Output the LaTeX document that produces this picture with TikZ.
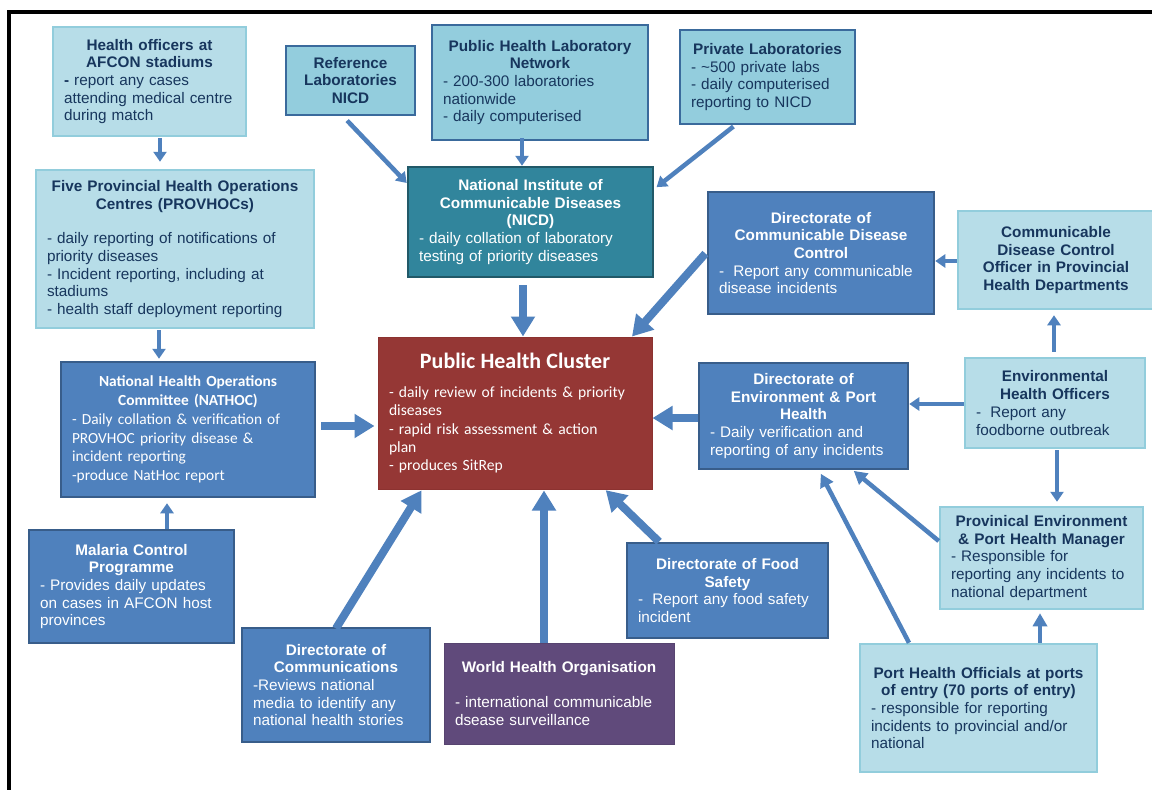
\documentclass[tikz,border=0pt]{standalone}
\usepackage{fontspec}
\setmainfont{Liberation Sans}
\newfontfamily\calfam{Carlito}
\usetikzlibrary{arrows.meta}
\setlength\parindent{0pt}
\definecolor{lbfill}{HTML}{B7DDE8}
\definecolor{lbdraw}{HTML}{92CDDC}
\definecolor{mbfill}{HTML}{93CDDD}
\definecolor{mbdraw}{HTML}{3A6A9C}
\definecolor{nicdfill}{HTML}{31859C}
\definecolor{nicddraw}{HTML}{215968}
\definecolor{bfill}{HTML}{4F81BD}
\definecolor{bdraw}{HTML}{385D8A}
\definecolor{redfill}{HTML}{953735}
\definecolor{reddraw}{HTML}{8C3230}
\definecolor{purpfill}{HTML}{604A7B}
\definecolor{purpdraw}{HTML}{574470}
\definecolor{navytext}{HTML}{17365D}
\definecolor{arrowc}{HTML}{4F81BD}
\newcommand\boxtitle[1]{{\centering\bfseries #1\par}}
\newcommand\mybox[7]{%
  \pgfmathsetmacro\bxw{#4-#2}%
  \pgfmathsetmacro\bxh{#5-#3}%
  \pgfmathsetmacro\bxt{#4-#2-22}%
  \node[#6, minimum width=\bxw pt, minimum height=\bxh pt, text width=\bxt pt] (#1) at ({(#2+#4)/2},{(#3+#5)/2}) {#7};}
\tikzset{
  basebox/.style={rectangle, inner xsep=11pt, inner ysep=2pt, line width=2.5pt,
    font=\fontsize{15.3}{17.7}\selectfont},
  lightbox/.style={basebox, fill=lbfill, draw=lbdraw, text=navytext},
  medbox/.style={basebox, fill=mbfill, draw=mbdraw, text=navytext},
  nicdbox/.style={basebox, fill=nicdfill, draw=nicddraw, text=white},
  bluebox/.style={basebox, fill=bfill, draw=bdraw, text=white},
  redbox/.style={basebox, fill=redfill, draw=reddraw, text=white, line width=1pt,
    font=\calfam\fontsize{15.6}{18.3}\selectfont},
  purpbox/.style={basebox, fill=purpfill, draw=purpdraw, text=white, line width=1pt},
  calbox/.style={font=\calfam\fontsize{15.4}{18.7}\selectfont},
  thinarr/.style={draw=arrowc, line width=4.5pt, -{Triangle[width=13pt,length=10pt]}},
  medarr/.style={draw=arrowc, line width=4.5pt, -{Triangle[width=14pt,length=13pt]}},
  thickarr/.style={draw=arrowc, line width=8pt, -{Triangle[width=23pt,length=20pt]}}
}
\begin{document}
\begin{tikzpicture}[x=1pt,y=-1pt]
\useasboundingbox (0,0) rectangle (1152,790);
\clip (0,0) rectangle (1152,790);
\fill[white] (0,0) rectangle (1152,790);
\draw[line width=3.5pt] (9,12) rectangle (1250,900);

% boxes
\mybox{hoa}{53}{27}{246}{136}{lightbox}{\boxtitle{Health officers at\\AFCON stadiums}\raggedright\textbf{-} report any cases\\attending medical centre\\during match}
\mybox{ref}{286}{46}{415}{115}{medbox}{\boxtitle{Reference\\Laboratories\\NICD}}
\mybox{phln}{432}{25}{648}{140}{medbox}{\boxtitle{Public Health Laboratory\\Network}\raggedright - 200-300 laboratories\\nationwide\\- daily computerised}
\mybox{priv}{680}{30}{855}{124}{medbox}{\boxtitle{Private Laboratories}\raggedright - \textasciitilde500 private labs\\- daily computerised\\reporting to NICD}
\mybox{prov}{36}{170}{314}{328}{lightbox}{\boxtitle{Five Provincial Health Operations\\Centres (PROVHOCs)}\vspace{17pt}\raggedright - daily reporting of notifications of\\priority diseases\\- Incident reporting, including at\\stadiums\\- health staff deployment reporting}
\mybox{nicd}{408}{167}{653}{277}{nicdbox}{\boxtitle{National Institute of\\Communicable Diseases\\(NICD)}\raggedright - daily collation of laboratory\\testing of priority diseases}
\mybox{dcdc}{708}{192}{934}{314}{bluebox}{\boxtitle{Directorate of\\Communicable Disease\\Control}\raggedright -\hspace{0.6em}Report any communicable\\disease incidents}
\mybox{cdco}{958}{211}{1154}{309}{lightbox}{\boxtitle{Communicable\\Disease Control\\Officer in Provincial\\Health Departments}}
\mybox{phc}{378}{337}{652}{489}{redbox}{{\centering\bfseries\fontsize{22}{25}\selectfont Public Health Cluster\par}\vspace{11pt}\raggedright - daily review of incidents \& priority\\diseases\\- rapid risk assessment \& action\\plan\\- produces SitRep}
\mybox{nat}{61}{362}{315}{497}{bluebox,calbox}{\boxtitle{National Health Operations\\Committee (NATHOC)}\raggedright - Daily collation \& verification of\\PROVHOC priority disease \&\\incident reporting\\-produce NatHoc report}
\mybox{deph}{699}{363}{908}{469}{bluebox}{\boxtitle{Directorate of\\Environment \& Port\\Health}\raggedright - Daily verification and\\reporting of any incidents}
\mybox{eho}{965}{358}{1145}{448}{lightbox}{\boxtitle{Environmental\\Health Officers}\raggedright -\hspace{0.6em}Report any\\foodborne outbreak}
\mybox{mal}{29}{530}{234}{643}{bluebox}{\boxtitle{Malaria Control\\Programme}\raggedright - Provides daily updates\\on cases in AFCON host\\provinces}
\mybox{comm}{242}{628}{430}{742}{bluebox}{\boxtitle{Directorate of\\Communications}\raggedright -Reviews national\\media to identify any\\national health stories}
\mybox{who}{444}{643}{674}{744}{purpbox}{\boxtitle{World Health Organisation}\vspace{17pt}\raggedright - international communicable\\dsease surveillance}
\mybox{food}{627}{543}{828}{638}{bluebox}{\boxtitle{Directorate of Food\\Safety}\raggedright -\hspace{0.6em}Report any food safety\\incident}
\mybox{pepm}{940}{507}{1143}{609}{lightbox}{\boxtitle{Provinical Environment\\\& Port Health Manager}\raggedright - Responsible for\\reporting any incidents to\\national department}
\mybox{pho}{860}{644}{1097}{772}{lightbox}{\boxtitle{Port Health Officials at ports\\of entry (70 ports of entry)}\raggedright - responsible for reporting\\incidents to provincial and/or\\national}

% connectors
\draw[thinarr, shorten <=1pt, shorten >=7pt] (160,0 |- hoa.south) -- (160,0 |- prov.north);
\draw[thinarr, shorten <=6pt, shorten >=0pt] (343,0 |- ref.south) -- (nicd.west |- 0,183);
\draw[thinarr, shorten <=-3pt] (522,0 |- phln.south) -- (522,0 |- nicd.north);
\draw[thinarr, shorten <=2pt, shorten >=3pt] (735,0 |- priv.south) -- (nicd.east |- 0,189);
\draw[thinarr, shorten <=1pt, shorten >=2pt] (159,0 |- prov.south) -- (159,0 |- nat.north);
\draw[thickarr, shorten <=7pt] (523,0 |- nicd.south) -- (523,0 |- phc.north);
\draw[thickarr, shorten <=2pt] (dcdc.west |- 0,252) -- (632,0 |- phc.north);
\draw[thinarr] (cdco.west |- 0,261) -- (dcdc.east |- 0,261);
\draw[thinarr, shorten <=5pt, shorten >=5pt] (1054,0 |- eho.north) -- (1054,0 |- cdco.south);
\draw[thinarr] (eho.west |- 0,404) -- (deph.east |- 0,404);
\draw[thinarr, shorten <=1pt, shorten >=4pt] (1057,0 |- eho.south) -- (1057,0 |- pepm.north);
\draw[thickarr] (deph.west |- 0,418) -- (phc.east |- 0,418);
\draw[thickarr, shorten <=5pt, shorten >=3pt] (nat.east |- 0,426) -- (phc.west |- 0,426);
\draw[thinarr, shorten >=5pt] (167,0 |- mal.north) -- (167,0 |- nat.south);
\draw[thickarr, shorten <=-2pt, shorten >=1pt] (337,0 |- comm.north) -- (422,0 |- phc.south);
\draw[thickarr, shorten >=1pt] (544,0 |- who.north) -- (544,0 |- phc.south);
\draw[thickarr, shorten >=1pt] (659,0 |- food.north) -- (605,0 |- phc.south);
\draw[medarr, shorten >=1pt] (pepm.west |- 0,541) -- (853,0 |- deph.south);
\draw[medarr, shorten >=4pt] (909,0 |- pho.north) -- (819,0 |- deph.south);
\draw[medarr, shorten >=3pt] (1040,0 |- pho.north) -- (1040,0 |- pepm.south);
\end{tikzpicture}
\end{document}
